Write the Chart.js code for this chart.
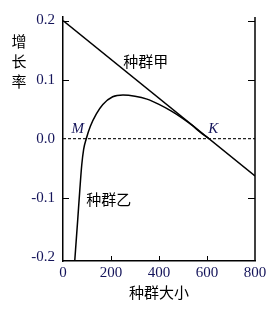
<!DOCTYPE html>
<html>
<head>
<meta charset="utf-8">
<script src="https://cdn.jsdelivr.net/npm/chart.js@4.4.1/dist/chart.umd.min.js"></script>
<style>
  html, body { margin: 0; padding: 0; background: #fff; }
  #wrap { width: 273px; height: 309px; position: relative; }
</style>
</head>
<body>
<div id="wrap"><canvas id="growthChart"></canvas></div>
<script>
// --- data
const xTickValues = [0, 200, 400, 600, 800];
const yTickValues = [0.2, 0.1, 0, -0.1, -0.2];
const xTickMarks = [200, 400, 600];
const yTickMarks = [0.2, 0.1, -0.1];

const popA_x = [0, 800];
const popA_y = [0.2, -0.063];

const popB_x = [48, 61, 70, 78, 86, 97, 114, 139, 166, 207, 250, 300, 350, 400, 450, 500, 540, 570, 608];
const popB_y = [-0.212, -0.139, -0.087, -0.045, -0.018, 0, 0.021, 0.042, 0.058, 0.071, 0.074, 0.072, 0.067, 0.058, 0.047, 0.034, 0.022, 0.0115, 0];

const zero_x = [0, 800];
const zero_y = [0, 0];

const yTitle = ["增", "长", "率"];
const xTitle = "种群大小";

// text notes on the plot (data coords)
const notes = [
  { text: "种群甲", x: 345, y: 0.131, font: "15px 'Noto Sans CJK SC'", color: "#000" },
  { text: "种群乙", x: 191, y: -0.102, font: "15px 'Noto Sans CJK SC'", color: "#000" },
  { text: "M", x: 61, y: 0.016, font: "italic 15px 'Liberation Serif'", color: "#14145a" },
  { text: "K", x: 626, y: 0.016, font: "italic 15px 'Liberation Serif'", color: "#14145a" },
];

const toPoints = (xs, ys) => xs.map((x, i) => ({ x: x, y: ys[i] }));

const labelColor = "#14145a";

// inward tick marks, right axis line, text notes
const annotate = {
  id: "annotate",
  afterDatasetsDraw(chart) {
    const { ctx, chartArea: a, scales: { x, y } } = chart;
    ctx.save();
    ctx.strokeStyle = "#000";
    ctx.lineWidth = 1.5;
    ctx.beginPath();
    ctx.moveTo(a.right, a.top);
    ctx.lineTo(a.right, a.bottom);
    ctx.stroke();

    ctx.lineWidth = 1;
    yTickMarks.forEach(v => {
      const py = Math.round(y.getPixelForValue(v)) + 0.5;
      ctx.beginPath();
      ctx.moveTo(a.left, py); ctx.lineTo(a.left + 6, py);
      ctx.moveTo(a.right, py); ctx.lineTo(a.right - 7, py);
      ctx.stroke();
    });
    xTickMarks.forEach(v => {
      const px = Math.round(x.getPixelForValue(v)) + 0.5;
      ctx.beginPath();
      ctx.moveTo(px, a.bottom); ctx.lineTo(px, a.bottom - 5);
      ctx.stroke();
    });

    ctx.textAlign = "center";
    ctx.textBaseline = "middle";
    notes.forEach(n => {
      ctx.font = n.font;
      ctx.fillStyle = n.color;
      ctx.fillText(n.text, x.getPixelForValue(n.x), y.getPixelForValue(n.y));
    });

    // vertical y-axis title
    ctx.font = "15px 'Noto Sans CJK SC'";
    ctx.fillStyle = "#000";
    yTitle.forEach((ch, i) => {
      ctx.fillText(ch, a.left - 44, a.top + 24 + i * 20);
    });
    ctx.restore();
  }
};

Chart.defaults.font.family = "'Liberation Serif'";
Chart.defaults.font.size = 15;

new Chart(document.getElementById("growthChart"), {
  type: "line",
  data: {
    datasets: [
      {
        label: "种群甲",
        data: toPoints(popA_x, popA_y),
        borderColor: "#000",
        borderWidth: 1.5,
        pointRadius: 0,
        tension: 0
      },
      {
        label: "种群乙",
        data: toPoints(popB_x, popB_y),
        borderColor: "#000",
        borderWidth: 1.5,
        pointRadius: 0,
        cubicInterpolationMode: "monotone"
      },
      {
        label: "zero",
        data: toPoints(zero_x, zero_y),
        borderColor: "#222",
        borderWidth: 1.2,
        borderDash: [3, 2],
        pointRadius: 0
      }
    ]
  },
  options: {
    responsive: true,
    maintainAspectRatio: false,
    animation: false,
    layout: { padding: { top: 13, right: 18, bottom: 0, left: 0 } },
    plugins: {
      legend: { display: false },
      tooltip: { enabled: false }
    },
    scales: {
      x: {
        type: "linear",
        min: 0,
        max: 800,
        afterBuildTicks: s => { s.ticks = xTickValues.map(v => ({ value: v })); },
        afterFit: s => { s.height = 48; },
        grid: { display: true, drawOnChartArea: false, drawTicks: false },
        border: { display: true, color: "#000", width: 1.5 },
        ticks: {
          color: labelColor,
          padding: 3,
          maxRotation: 0,
          autoSkip: false,
          callback: v => String(v)
        },
        title: {
          display: true,
          text: xTitle,
          color: "#000",
          font: { family: "'Noto Sans CJK SC'", size: 15 },
          padding: { top: 0, bottom: 8 }
        }
      },
      y: {
        type: "linear",
        min: -0.207,
        max: 0.206,
        afterBuildTicks: s => { s.ticks = yTickValues.map(v => ({ value: v })); },
        afterFit: s => { s.width = 63; },
        grid: { display: true, drawOnChartArea: false, drawTicks: false },
        border: { display: true, color: "#000", width: 1.5 },
        ticks: {
          color: labelColor,
          padding: 8,
          autoSkip: false,
          callback: v => v.toFixed(1)
        }
      }
    }
  },
  plugins: [annotate]
});
</script>
</body>
</html>
